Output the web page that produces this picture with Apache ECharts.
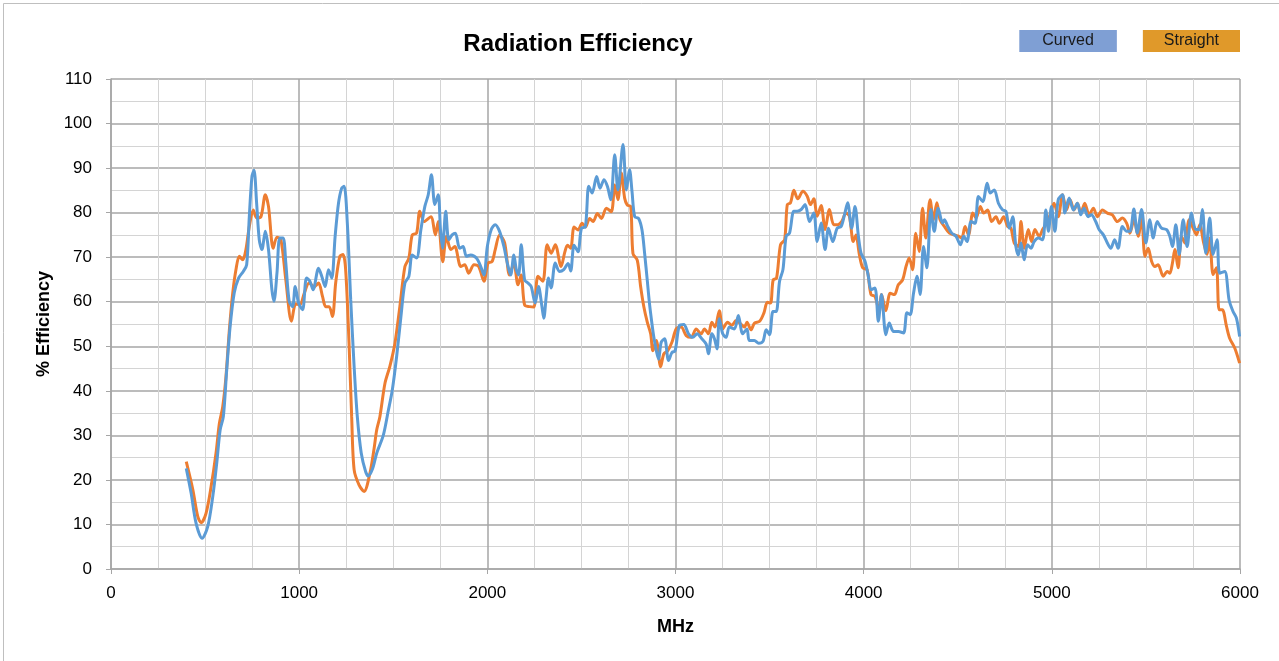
<!DOCTYPE html>
<html>
<head>
<meta charset="utf-8">
<title>Radiation Efficiency</title>
<script src="https://cdn.jsdelivr.net/npm/echarts@6/dist/echarts.min.js"></script>
<style>
  html, body { margin: 0; padding: 0; background: #fff; }
  #chart { width: 1279px; height: 661px; }
</style>
</head>
<body>
<div id="chart"></div>
<script>
// [MHz, % efficiency]
const curved = [
  [400,22.6],[426,17],[452,10.3],[484,6.9],[514,9.5],[541,16.3],[562,23.8],[580,31.2],[597,34.2],[615,44.7],
  [633,54.4],[655,62],[678,65.3],[703,66.8],[721,68.3],[735,79.1],[749,88.1],[760,89.5],[774,82.1],[788,73.9],
  [802,71.7],[820,75.8],[837,71.7],[855,62.7],[866,60.1],[882,66.4],[897,74.3],[915,74.3],[929,68.7],[947,60.1],
  [965,58.9],[979,63.4],[997,59.7],[1018,58.2],[1039,65.3],[1057,64.6],[1074,62.7],[1103,67.5],[1120,65.7],[1138,63.4],
  [1156,67.2],[1173,65.3],[1191,74.6],[1209,82.1],[1226,85.5],[1239,85.9],[1256,77.6],[1274,60.4],[1292,45.5],[1309,34.2],
  [1330,26],[1353,21.9],[1367,20.9],[1390,22.5],[1412,26],[1447,30],[1473,35.4],[1495,40.2],[1518,47.7],[1541,56.7],
  [1562,64.2],[1583,65.7],[1601,70.5],[1624,69.8],[1647,76.2],[1668,81.4],[1686,84],[1703,88.5],[1721,81.8],[1739,84],
  [1751,76.2],[1762,72],[1779,80.3],[1795,73.9],[1813,75],[1830,75.4],[1853,72],[1871,72.4],[1889,70.2],[1912,70.5],
  [1942,69.8],[1965,67.9],[1982,66],[2000,72.4],[2021,76.2],[2042,77.3],[2065,75.8],[2088,72.4],[2106,68.7],[2124,66],
  [2141,70.5],[2154,67.2],[2166,66],[2180,72.8],[2198,64.9],[2216,64.2],[2233,63.4],[2254,59.7],[2272,63.4],[2290,59],
  [2300,56.3],[2313,61.2],[2325,65.3],[2339,63.1],[2361,68.7],[2383,66.8],[2406,67.2],[2429,68.6],[2443,66.9],[2461,72.7],
  [2482,71.2],[2500,76.5],[2521,76.8],[2539,85.9],[2557,84.4],[2581,88.1],[2599,85.5],[2620,87.4],[2638,85.9],[2656,82.9],
  [2677,93],[2694,85.1],[2721,95.3],[2739,85.1],[2756,89.6],[2769,84.7],[2783,79.1],[2804,78.7],[2822,76.1],[2836,70.8],
  [2850,64.8],[2862,59.5],[2875,55],[2885,52],[2898,49],[2910,47.1],[2924,50.9],[2942,51.7],[2963,46.8],[2981,48.6],
  [2998,49],[3021,54.7],[3044,54.9],[3069,52.8],[3092,52],[3115,52.8],[3140,51.7],[3163,50.5],[3175,48.3],[3193,52.8],
  [3207,51.7],[3221,49.4],[3233,56.2],[3251,52.8],[3269,52],[3286,54.3],[3313,53.9],[3334,56.9],[3357,52.8],[3380,53.9],
  [3392,51.3],[3419,51.3],[3442,50.7],[3465,51.1],[3482,53.7],[3500,52.6],[3518,57.8],[3535,57.8],[3553,64.6],[3571,67.2],
  [3588,74.7],[3606,75.4],[3629,80.3],[3647,80.3],[3668,80.7],[3689,81.8],[3712,78],[3735,79.9],[3753,73.5],[3774,77.7],
  [3795,71.7],[3813,76.5],[3836,73.5],[3859,76.5],[3880,76.9],[3898,79.5],[3915,82.2],[3936,76.5],[3954,81.4],[3972,74.7],
  [3986,70.9],[4007,69.1],[4025,65.7],[4039,62.7],[4060,63.1],[4078,55.6],[4095,61.6],[4118,52.6],[4136,55.2],[4159,53.3],
  [4184,53.3],[4212,53],[4230,57.5],[4247,57.1],[4265,61.9],[4283,65.7],[4300,61.6],[4318,72.4],[4336,67.6],[4357,80.7],
  [4375,75.8],[4396,81],[4419,77.7],[4429,78.4],[4447,76.9],[4468,75.4],[4491,74.7],[4514,72.8],[4532,74.7],[4549,73.5],
  [4571,78],[4592,77.6],[4610,83.6],[4633,82.5],[4656,86.6],[4673,84.4],[4694,85.1],[4716,82.1],[4739,80.6],[4756,80.3],
  [4774,76.5],[4792,79.1],[4809,72.4],[4822,70.5],[4836,73.2],[4853,69.4],[4871,72.8],[4889,72],[4906,73.5],[4928,74.3],
  [4951,73.9],[4968,80.6],[4982,75.8],[4998,81.4],[5016,75.8],[5034,82.9],[5057,84],[5069,79.9],[5092,83.3],[5115,80.6],
  [5136,82.1],[5154,79.5],[5171,81],[5193,79.1],[5210,79.5],[5233,78],[5251,76.2],[5274,75],[5295,73.2],[5313,72],
  [5334,73.9],[5352,72],[5375,76.9],[5398,75.8],[5415,75.8],[5436,80.8],[5454,75.4],[5477,80.7],[5500,73.2],[5521,78.4],
  [5539,74.3],[5560,78],[5583,76.5],[5610,76.2],[5627,74.7],[5641,72.4],[5659,77.3],[5677,70.6],[5698,78.4],[5719,72.4],
  [5742,79.9],[5765,76.2],[5783,76.2],[5800,80.7],[5818,70.9],[5839,78.8],[5857,70.6],[5878,73.9],[5892,66.4],[5919,66.8],
  [5942,60.4],[5963,57.8],[5981,56.3],[5998,52.2]
]

const straight = [
  [400,24.1],[435,17.8],[461,11.8],[479,10.4],[505,12.5],[532,18.5],[558,26],[576,32.7],[594,36.5],[611,43.2],
  [629,53.7],[647,62],[664,67.2],[682,70.2],[700,69.4],[717,71.7],[735,76.9],[756,80.6],[774,78.8],[797,79.1],
  [820,84],[837,81.4],[862,72],[882,74.5],[903,73.9],[929,64.9],[959,55.6],[982,59.5],[1004,59.3],[1027,61.9],
  [1053,64.2],[1080,63.4],[1103,64.2],[1124,61.2],[1141,58.9],[1159,58.9],[1177,56.7],[1194,64.2],[1216,70.2],[1233,70.6],
  [1247,67.2],[1265,50.7],[1279,34.2],[1292,22.3],[1318,18.9],[1345,17.4],[1376,21.5],[1398,27],[1412,31.2],[1429,34.2],
  [1456,41.7],[1482,45.5],[1509,50.7],[1535,58.9],[1562,67.9],[1583,69.8],[1601,75],[1624,75.4],[1641,80.3],[1664,78],
  [1700,79.1],[1724,75],[1739,78],[1763,69],[1783,74.7],[1806,71.7],[1827,72.4],[1859,67.9],[1880,68.3],[1901,66.4],
  [1929,68.3],[1954,67.9],[1982,64.6],[2004,68.7],[2025,69],[2042,71.7],[2065,75],[2092,73.2],[2118,66],[2141,68.7],
  [2163,63.8],[2180,66],[2198,59.3],[2225,58.9],[2247,58.8],[2269,65.7],[2295,64.6],[2318,72.8],[2339,70.9],[2361,72.8],
  [2392,67.9],[2412,71.2],[2426,72.7],[2443,72],[2461,76.8],[2482,76.1],[2504,77.6],[2521,76.8],[2544,78.7],[2562,78],
  [2585,79.8],[2606,78.7],[2633,81],[2659,80.2],[2677,86.2],[2694,82.9],[2712,88.9],[2730,83.2],[2744,81.7],[2762,81.4],
  [2774,70.8],[2797,69.3],[2815,63.3],[2832,58.8],[2850,55.4],[2868,52.8],[2880,49],[2898,51.3],[2921,45.4],[2938,48.3],
  [2959,49],[2981,50.9],[3004,53.9],[3030,54.3],[3057,52.4],[3083,52],[3110,53.9],[3136,52.8],[3154,53.9],[3175,52.8],
  [3193,55.4],[3210,54.3],[3233,58],[3251,53.9],[3277,55.4],[3299,54.7],[3322,55.8],[3345,55.1],[3366,54.3],[3380,55.4],
  [3401,53.7],[3420,55.2],[3447,55.6],[3470,57.5],[3488,59.9],[3505,59.7],[3519,64.9],[3537,65.3],[3558,72.8],[3580,73.9],
  [3594,81.8],[3611,82.2],[3629,85],[3650,83.1],[3677,84.8],[3700,83.7],[3717,81.8],[3735,83.1],[3753,79.2],[3774,81.6],
  [3795,76.2],[3818,80.7],[3841,77.3],[3862,77.3],[3883,78],[3906,79.9],[3924,79.2],[3945,73.5],[3959,75],[3977,70.6],
  [3995,67.6],[4018,67.2],[4039,61.6],[4060,61.2],[4083,57.8],[4095,61.6],[4118,58],[4141,61.9],[4163,61.6],[4184,63.8],
  [4207,64.9],[4225,67.9],[4242,69.8],[4260,67.2],[4277,75.4],[4295,71.3],[4313,81],[4330,74.3],[4353,82.9],[4371,78.4],
  [4389,82.2],[4406,78.4],[4429,76.9],[4456,75.4],[4482,75],[4504,74.7],[4521,74.3],[4539,76.9],[4557,75],[4580,79.9],
  [4597,78.8],[4620,81.4],[4638,79.9],[4659,80.6],[4680,78],[4703,79.1],[4721,77.6],[4744,79.1],[4765,76.9],[4783,76.5],
  [4800,73.2],[4822,72.4],[4836,78],[4853,72],[4875,76.2],[4892,73.5],[4910,76.2],[4933,74.7],[4951,76.2],[4968,77.3],
  [4991,79.5],[5012,82.1],[5034,79.1],[5057,84],[5078,80.6],[5097,82.9],[5118,80.6],[5136,82.1],[5154,79.9],[5175,82.1],
  [5198,79.5],[5221,81],[5242,79.1],[5269,80.6],[5295,79.9],[5322,79.5],[5348,78],[5375,78.8],[5398,77.6],[5415,75.4],
  [5436,78.4],[5459,74.7],[5477,79.2],[5495,70.2],[5512,72],[5530,69.1],[5548,67.9],[5565,68.3],[5592,65.7],[5613,66.8],
  [5627,66.4],[5641,68.7],[5654,71.7],[5671,67.6],[5689,74.7],[5707,73.2],[5730,78.4],[5751,76.5],[5769,75],[5786,77.3],
  [5807,73.2],[5825,70.6],[5839,74.3],[5857,66.1],[5875,67.6],[5889,58.2],[5906,58.2],[5928,54.5],[5945,51.8],[5972,49.6],
  [5998,46.2]
]

const chart = echarts.init(document.getElementById('chart'))

const font = 'Liberation Sans, Arial, sans-serif'
const majorGrid = { lineStyle: { color: '#a6a6a6', width: 1.5 } }
const minorGrid = { lineStyle: { color: '#d4d4d4', width: 1 } }

const option = {
  animation: false,
  backgroundColor: '#fff',
  textStyle: { fontFamily: font },
  title: {
    text: 'Radiation Efficiency',
    left: 573,
    top: 27,
    textAlign: 'center',
    textStyle: { fontSize: 24, fontWeight: 'bold', color: '#000', fontFamily: font }
  },
  legend: {
    right: 34,
    top: 25,
    itemWidth: 0,
    itemHeight: 0,
    itemGap: 21,
    selectedMode: false,
    data: [
      { name: 'Curved', icon: 'rect', textStyle: { backgroundColor: '#7f9fd4', padding: [3, 23, 3, 23] } },
      { name: 'Straight', icon: 'rect', textStyle: { backgroundColor: '#e0992a', padding: [3, 21, 3, 21] } }
    ],
    textStyle: { fontSize: 16, color: '#1a1a1a', lineHeight: 16, fontFamily: font }
  },
  graphic: [{
    type: 'rect',
    silent: true,
    shape: { x: 3.5, y: 3.5, width: 1400, height: 800 },
    style: { fill: 'none', stroke: '#bfbfbf', lineWidth: 1 }
  }],
  grid: { left: 111, right: 39, top: 79, bottom: 92 },
  xAxis: {
    type: 'value',
    min: 0,
    max: 6000,
    interval: 1000,
    name: 'MHz',
    nameLocation: 'middle',
    nameGap: 49,
    nameTextStyle: { fontSize: 18, fontWeight: 'bold', color: '#000' },
    axisLine: { show: true, lineStyle: { color: '#a6a6a6', width: 1.5 } },
    axisTick: { show: true, length: 5, lineStyle: { color: '#a6a6a6' } },
    axisLabel: { fontSize: 17, color: '#000', margin: 16, formatter: v => String(v) },
    splitLine: { show: true, ...majorGrid },
    minorTick: { show: false, splitNumber: 4 },
    minorSplitLine: { show: true, ...minorGrid }
  },
  yAxis: {
    type: 'value',
    min: 0,
    max: 110,
    interval: 10,
    name: '% Efficiency',
    nameLocation: 'middle',
    nameGap: 58,
    nameTextStyle: { fontSize: 18, fontWeight: 'bold', color: '#000' },
    axisLine: { show: true, lineStyle: { color: '#a6a6a6', width: 1.5 } },
    axisTick: { show: true, length: 5, lineStyle: { color: '#a6a6a6' } },
    axisLabel: { fontSize: 17, color: '#000', margin: 19 },
    splitLine: { show: true, ...majorGrid },
    minorTick: { show: false, splitNumber: 2 },
    minorSplitLine: { show: true, ...minorGrid }
  },
  series: [
    {
      name: 'Curved',
      type: 'line',
      data: curved,
      showSymbol: false,
      smooth: 0.3,
      z: 3,
      lineStyle: { color: '#5b9bd5', width: 3 },
      itemStyle: { color: '#5b9bd5' }
    },
    {
      name: 'Straight',
      type: 'line',
      data: straight,
      showSymbol: false,
      smooth: 0.3,
      z: 2,
      lineStyle: { color: '#ed7d31', width: 3 },
      itemStyle: { color: '#ed7d31' }
    }
  ]
}

chart.setOption(option)
window.addEventListener('resize', () => chart.resize())
</script>
</body>
</html>
